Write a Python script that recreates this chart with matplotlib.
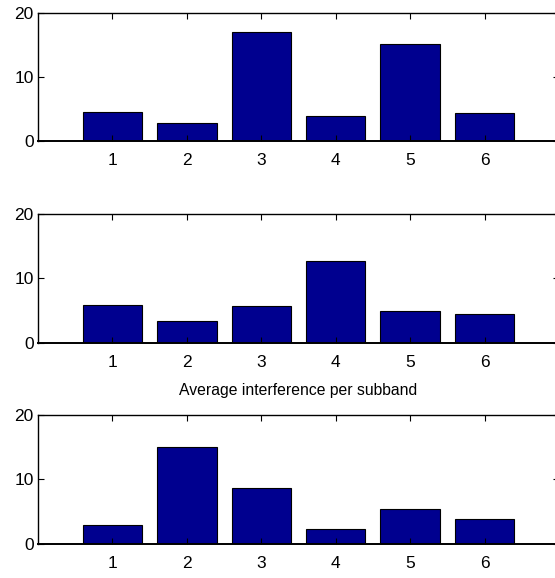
import matplotlib.pyplot as plt

plt.rcParams['font.family'] = ['Liberation Sans', 'DejaVu Sans']

subbands = [1, 2, 3, 4, 5, 6]
interference_a = [4.48, 2.76, 17.03, 3.91, 15.16, 4.32]
interference_b = [5.80, 3.37, 5.65, 12.64, 4.97, 4.46]
interference_c = [2.95, 14.97, 8.65, 2.33, 5.39, 3.78]
yticks = [0, 10, 20]

bar_color = '#00008f'

fig = plt.figure(figsize=(5.55, 5.78), dpi=100)

# axes boxes run past the right edge of the figure, like the cropped MATLAB export
positions = [
    [0.0685, 0.7566, 0.9387, 0.2215],
    [0.0685, 0.4071, 0.9387, 0.2227],
    [0.0685, 0.0593, 0.9387, 0.2227],
]

series = [interference_a, interference_b, interference_c]
axes = []
for pos, vals in zip(positions, series):
    ax = fig.add_axes(pos)
    ax.bar(subbands, vals, width=0.8, color=bar_color, edgecolor='black', linewidth=0.8)
    ax.set_xlim(0, 7)
    ax.set_ylim(0, 20)
    ax.set_xticks(subbands)
    ax.set_yticks(yticks)
    ax.tick_params(direction='in', length=4, width=0.8, top=True, right=True,
                   labelsize=12.5)
    ax.tick_params(axis='x', pad=9)
    ax.tick_params(axis='y', pad=3)
    for s in ax.spines.values():
        s.set_linewidth(1.0)
    ax.spines['bottom'].set_linewidth(1.4)
    axes.append(ax)

axes[1].set_xlabel('Average interference per subband', fontsize=11.3, labelpad=9)

fig.savefig('out.png', dpi=100)
